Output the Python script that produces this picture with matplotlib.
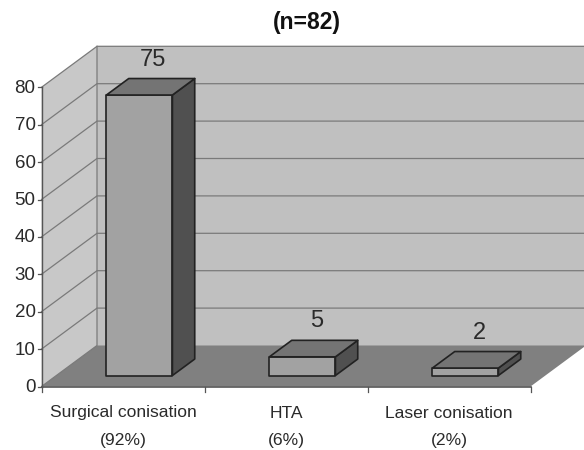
import matplotlib.pyplot as plt
from matplotlib.patches import Polygon

plt.rcParams["font.family"] = ["Liberation Sans", "DejaVu Sans"]

categories = ["Surgical conisation\n(92%)", "HTA\n(6%)", "Laser conisation\n(2%)"]
values = [75, 5, 2]
y_ticks = [0, 10, 20, 30, 40, 50, 60, 70, 80]
title = "(n=82)"

TXT = "#2a2a2a"
LINE = "#7a7a7a"

# pseudo 3d: front plane in pixels, depth runs from 0 to 1 towards the back wall
X0, Y0 = 41.5, 386.5
CAT_W = 163.0
UNIT = 3.74
DX, DY = 55.5, -41.0


def project(cat, val, depth=0.0):
    return (X0 + cat * CAT_W + depth * DX, Y0 - val * UNIT + depth * DY)


def poly(ax, pts, fc, ec="none", lw=1.0, z=1):
    ax.add_patch(Polygon(pts, closed=True, fc=fc, ec=ec, lw=lw, zorder=z, joinstyle="round"))


fig = plt.figure(figsize=(5.84, 4.5), dpi=100)
ax = fig.add_axes([0, 0, 1, 1])
ax.set_xlim(0, 584)
ax.set_ylim(450, 0)
ax.axis("off")

n = len(categories)
vmax = y_ticks[-1]

# walls and floor
poly(ax, [project(0, 0), project(0, vmax), project(0, vmax, 1), project(0, 0, 1)], "#c8c8c8", z=1)
poly(ax, [project(0, 0, 1), project(0, vmax, 1), project(n, vmax, 1), project(n, 0, 1)], "#c0c0c0", z=1)
poly(ax, [project(0, 0), project(n, 0), project(n, 0, 1), project(0, 0, 1)], "#808080", z=2)

# gridlines
for t in y_ticks[1:]:
    pts = [project(0, t), project(0, t, 1), project(n, t, 1)]
    ax.plot(*zip(*pts), color=LINE, lw=0.9, zorder=2)
ax.plot(*zip(project(0, 0), project(0, 0, 1), project(0, vmax, 1)), color=LINE, lw=0.9, zorder=2)

# axes and ticks
ax.plot(*zip(project(0, 0), project(0, vmax)), color="#555555", lw=1.0, zorder=3)
ax.plot(*zip(project(0, 0), project(n, 0)), color="#555555", lw=1.2, zorder=3)
for t in y_ticks:
    x, y = project(0, t)
    ax.plot([x - 4, x], [y, y], color="#555555", lw=0.9, zorder=3)
    ax.text(x - 6, y + 1, str(t), ha="right", va="center", fontsize=13.5, color=TXT)
for i in range(n + 1):
    x, y = project(i, 0)
    ax.plot([x, x], [y, y + 5], color="#555555", lw=0.9, zorder=3)

for i, lab in enumerate(categories):
    x, y = project(i + 0.5, 0)
    first, second = lab.split("\n")
    ax.text(x, 413, first, ha="center", va="center", fontsize=12.6, color=TXT)
    ax.text(x, 441, second, ha="center", va="center", fontsize=12.6, color=TXT)

# bars
c0, c1 = 0.307, 0.712
d0, d1 = 0.268, 0.67
for i, v in enumerate(values):
    a, b = i + c0, i + c1
    poly(ax, [project(a, 0, d0), project(b, 0, d0), project(b, v, d0), project(a, v, d0)],
         "#a2a2a2", "#222222", 1.2, 4)
    poly(ax, [project(b, 0, d0), project(b, 0, d1), project(b, v, d1), project(b, v, d0)],
         "#505050", "#222222", 1.2, 4)
    poly(ax, [project(a, v, d0), project(b, v, d0), project(b, v, d1), project(a, v, d1)],
         "#747474", "#222222", 1.2, 4)
    x, y = project(i + 0.5, v, d1)
    ax.text(x - 7, y - 19, str(v), ha="center", va="center", fontsize=17, color=TXT)

ax.text(307, 22, title, ha="center", va="center", fontsize=16.5, fontweight="bold", color="#111111")

fig.savefig("out.png", dpi=100)
